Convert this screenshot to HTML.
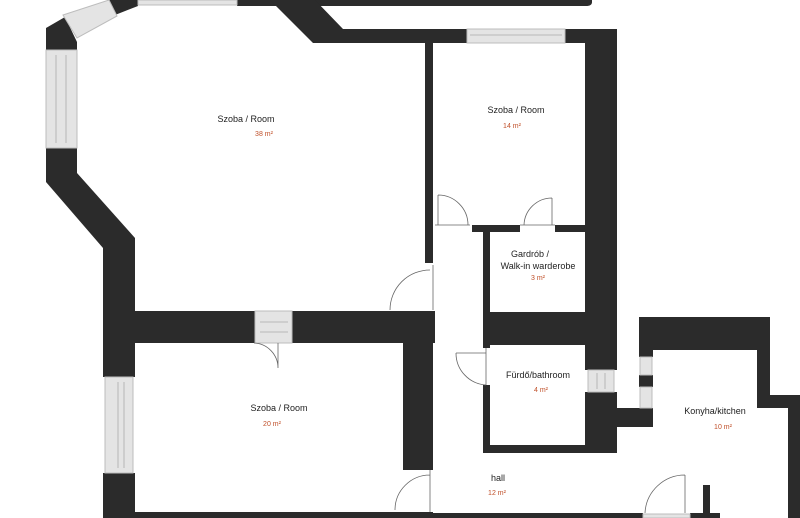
<!DOCTYPE html>
<html><head><meta charset="utf-8"><style>
html,body{margin:0;padding:0;background:#fff;}
svg{display:block}
text{font-family:"Liberation Sans",sans-serif;text-anchor:middle}
.l{font-size:9px;fill:#222}
.a{font-size:7px;fill:#c0502a}
</style></head><body>
<svg width="800" height="518" viewBox="0 0 800 518" xmlns="http://www.w3.org/2000/svg">
<g fill="#2b2b2b">
<path d="M237 0 H592 V2 Q592 6 586 6 H237 Z"/>
<polygon points="270,0 315,0 343,29 467,29 467,43 313,43"/>
<rect x="565" y="29" width="52" height="14"/>
<rect x="585" y="29" width="32" height="341"/>
<rect x="585" y="392" width="32" height="60"/>
<polygon points="46,28 65,17 77,42 77,50 46,50"/>
<polygon points="107,0 138,0 138,6 115,15"/>
<polygon points="46,148 77,148 77,173 135,238 135,311 103,311 103,248 46,182"/>
<rect x="103" y="311" width="152" height="32"/>
<rect x="292" y="311" width="143" height="32"/>
<rect x="425" y="43" width="8" height="220"/>
<rect x="103" y="343" width="32" height="34"/>
<rect x="103" y="473" width="32" height="45"/>
<rect x="403" y="343" width="30" height="127"/>
<rect x="103" y="512" width="330" height="6"/>
<rect x="472" y="225" width="48" height="7"/>
<rect x="555" y="225" width="30" height="7"/>
<rect x="483" y="225" width="7" height="123"/>
<rect x="490" y="312" width="127" height="33"/>
<rect x="483" y="385" width="7" height="68"/>
<rect x="483" y="445" width="134" height="8"/>
<rect x="612" y="408" width="41" height="19"/>
<rect x="639" y="317" width="131" height="33"/>
<rect x="639" y="317" width="14" height="40"/>
<rect x="639" y="375" width="14" height="12"/>
<rect x="757" y="317" width="13" height="91"/>
<polygon points="757,395 800,395 800,518 788,518 788,408 757,408"/>
<rect x="703" y="485" width="7" height="33"/>
<rect x="433" y="513" width="210" height="5"/>
<rect x="690" y="513" width="30" height="5"/>
</g>
<g fill="#e4e4e4" stroke="#bdbdbd" stroke-width="1">
<rect x="643" y="514" width="47" height="4"/>
<rect x="138" y="0" width="99" height="5"/>
<polygon points="63,15 109,0 117,16 77,38"/>
<rect x="46" y="50" width="31" height="98"/>
<rect x="467" y="29" width="98" height="14"/>
<rect x="255" y="311" width="37" height="32"/>
<rect x="105" y="377" width="28" height="96"/>
<rect x="588" y="370" width="26" height="22"/>
<rect x="640" y="357" width="12" height="18"/>
<rect x="640" y="387" width="12" height="21"/>
</g>
<g stroke="#aaa" stroke-width="0.8">
<line x1="56" y1="55" x2="56" y2="143"/><line x1="66" y1="55" x2="66" y2="143"/>
<line x1="118" y1="382" x2="118" y2="468"/><line x1="124" y1="382" x2="124" y2="468"/>
<line x1="260" y1="322" x2="288" y2="322"/><line x1="260" y1="332" x2="288" y2="332"/>
<line x1="597" y1="373" x2="597" y2="389"/><line x1="605" y1="373" x2="605" y2="389"/>
<line x1="470" y1="35" x2="562" y2="35"/>
</g>
<g fill="none" stroke="#666" stroke-width="0.8">
<path d="M433 310 V265 M390 310 A40 40 0 0 1 430 270"/>
<path d="M435 225 H470 M438 195 V225 M438 195 A30 30 0 0 1 468 225"/>
<path d="M520 225 H555 M552 198 V225 M552 198 A28 28 0 0 0 524 225"/>
<path d="M486 348 V385 M456 353 A32 32 0 0 0 486 385 M456 353 H486"/>
<path d="M430 470 V512 M395 510 A35 35 0 0 1 430 475"/>
<path d="M278 343 V368 M278 368 A25 25 0 0 0 254 343"/>
<path d="M685 475 V513 M645 513 A40 40 0 0 1 685 475"/>
</g>
<text class="l" x="246" y="122">Szoba / Room</text><text class="a" x="264" y="136">38 m²</text>
<text class="l" x="516" y="113">Szoba / Room</text><text class="a" x="512" y="128">14 m²</text>
<text class="l" x="530" y="257">Gardrób  /</text><text class="l" x="538" y="269">Walk-in warderobe</text><text class="a" x="538" y="280">3 m²</text>
<text class="l" x="538" y="378">Fürdő/bathroom</text><text class="a" x="541" y="392">4 m²</text>
<text class="l" x="279" y="411">Szoba / Room</text><text class="a" x="272" y="426">20 m²</text>
<text class="l" x="715" y="414">Konyha/kitchen</text><text class="a" x="723" y="429">10 m²</text>
<text class="l" x="498" y="481">hall</text><text class="a" x="497" y="495">12 m²</text>
</svg>
</body></html>
